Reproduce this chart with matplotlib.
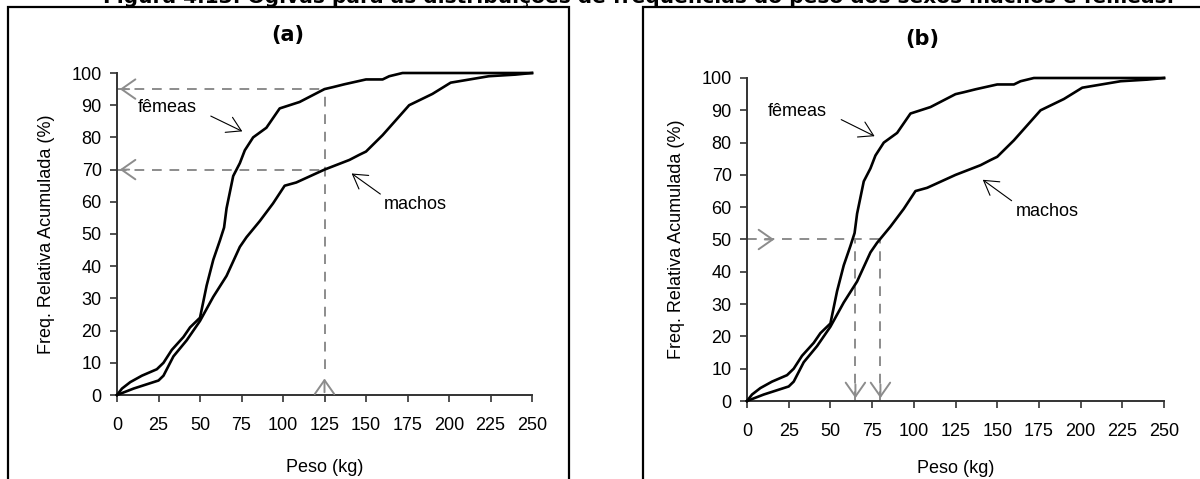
import matplotlib.pyplot as plt
from matplotlib.patches import Rectangle

# dados (ogivas)
femeas_x = [0, 3, 8, 15, 24, 28, 33, 40, 44, 50, 54, 58, 62, 64.5, 66, 67, 70, 74, 77, 82, 90, 98,
            104, 110, 125, 130, 137, 150, 160, 164, 172, 200, 250]
femeas_y = [0, 2, 4, 6, 8, 10, 14, 18, 21, 24, 34, 42, 48, 52, 58, 60.5, 68, 72, 76, 80, 83, 89,
            90, 91, 95, 95.6, 96.5, 98, 98, 99, 100, 100, 100]
machos_x = [0, 10, 25, 28, 34, 42, 50, 58, 66, 74, 78, 86, 94, 101, 108, 125, 140, 146, 150, 160,
            176, 190, 201, 224, 240, 250]
machos_y = [0, 2, 4.5, 6, 12, 17, 23, 30.5, 37, 46, 49, 54, 59.5, 65, 66, 70, 73, 74.6, 75.6, 80.7,
            90, 93.5, 97, 99, 99.5, 100]

xticks = [0, 25, 50, 75, 100, 125, 150, 175, 200, 225, 250]
yticks = [0, 10, 20, 30, 40, 50, 60, 70, 80, 90, 100]

titulo = 'Figura 4.13: Ogivas para as distribuições de frequências do peso dos sexos machos e fêmeas.'

plt.rcParams['font.family'] = ['Liberation Sans', 'DejaVu Sans']
cinza = '#8c8c8c'

fig = plt.figure(figsize=(12, 4.79), dpi=100)

# titulo cortado no topo
fig.text(639/1200, 1-3/479, titulo, ha='center', va='baseline', fontsize=14.5,
         fontweight='bold', family='DejaVu Sans')

# molduras
fig.patches.append(Rectangle((8/1200, -0.1), (569-8)/1200, 1.1-7/479, transform=fig.transFigure,
                             fill=False, lw=1.6, ec='black'))
fig.patches.append(Rectangle((643/1200, -0.1), 0.5, 1.1-7/479, transform=fig.transFigure,
                             fill=False, lw=1.6, ec='black'))

ax1 = fig.add_axes([117/1200, 1-395/479, 415/1200, 322/479])
ax2 = fig.add_axes([747/1200, 1-401/479, 417/1200, 323/479])

for ax in [ax1, ax2]:
    ax.plot(femeas_x, femeas_y, color='black', lw=1.9, clip_on=False, zorder=3)
    ax.plot(machos_x, machos_y, color='black', lw=1.9, clip_on=False, zorder=3)
    ax.set_xlim(0, 250)
    ax.set_ylim(0, 100)
    ax.set_xticks(xticks)
    ax.set_yticks(yticks)
    ax.tick_params(labelsize=13, length=5, width=1.2, color='#333333', pad=6)
    ax.tick_params(axis='x', pad=11)
    for s in ['top', 'right']:
        ax.spines[s].set_visible(False)
    for s in ['left', 'bottom']:
        ax.spines[s].set_linewidth(1.4)
        ax.spines[s].set_color('#333333')
    ax.set_ylabel('Freq. Relativa Acumulada (%)', fontsize=13, labelpad=12)

ax1.set_xlabel('Peso (kg)', fontsize=13, labelpad=18)
ax2.set_xlabel('Peso (kg)', fontsize=13, labelpad=14)

seta = dict(arrowstyle='->,head_length=0.5,head_width=0.35', color=cinza, lw=1.4, mutation_scale=20)
preta = dict(arrowstyle='->,head_length=0.5,head_width=0.3', color='black', lw=0.8, mutation_scale=20)
tracejado = dict(color=cinza, lw=1.4, ls=(0, (5, 4)), zorder=2)

# (a) linhas guia
ax1.plot([0, 125], [95, 95], **tracejado)
ax1.plot([0, 125], [70, 70], **tracejado)
ax1.plot([125, 125], [8, 95], **tracejado)
ax1.annotate('', xy=(0, 95), xytext=(9, 95), arrowprops=seta)
ax1.annotate('', xy=(0, 70), xytext=(9, 70), arrowprops=seta)
ax1.annotate('', xy=(125, 6), xytext=(125, 0), arrowprops=seta)
ax1.text(12.6, 89.4, 'fêmeas', fontsize=13, va='center', ha='left')
ax1.annotate('', xy=(77, 81.5), xytext=(55, 87), arrowprops=preta)
ax1.text(161, 59.3, 'machos', fontsize=13, va='center', ha='left')
ax1.annotate('', xy=(140, 69.3), xytext=(160, 61.9), arrowprops=preta)
ax1.set_title('(a)', fontsize=15, fontweight='bold', family='DejaVu Sans', x=(288-117)/415, y=1.075)

# (b) linhas guia
ax2.plot([0, 80], [50, 50], **tracejado)
ax2.plot([65, 65], [0, 50], **tracejado)
ax2.plot([80, 80], [0, 50], **tracejado)
ax2.annotate('', xy=(18, 50), xytext=(9, 50), arrowprops=seta)
ax2.annotate('', xy=(65, 0), xytext=(65, 6), arrowprops=seta)
ax2.annotate('', xy=(80, 0), xytext=(80, 6), arrowprops=seta)
ax2.text(12.6, 89.6, 'fêmeas', fontsize=13, va='center', ha='left')
ax2.annotate('', xy=(78, 81.6), xytext=(55, 87.5), arrowprops=preta)
ax2.text(161, 58.8, 'machos', fontsize=13, va='center', ha='left')
ax2.annotate('', xy=(140, 69), xytext=(160, 61.5), arrowprops=preta)
ax2.set_title('(b)', fontsize=15, fontweight='bold', family='DejaVu Sans', x=(922-747)/417, y=1.075)

plt.savefig('out.png', dpi=100)
